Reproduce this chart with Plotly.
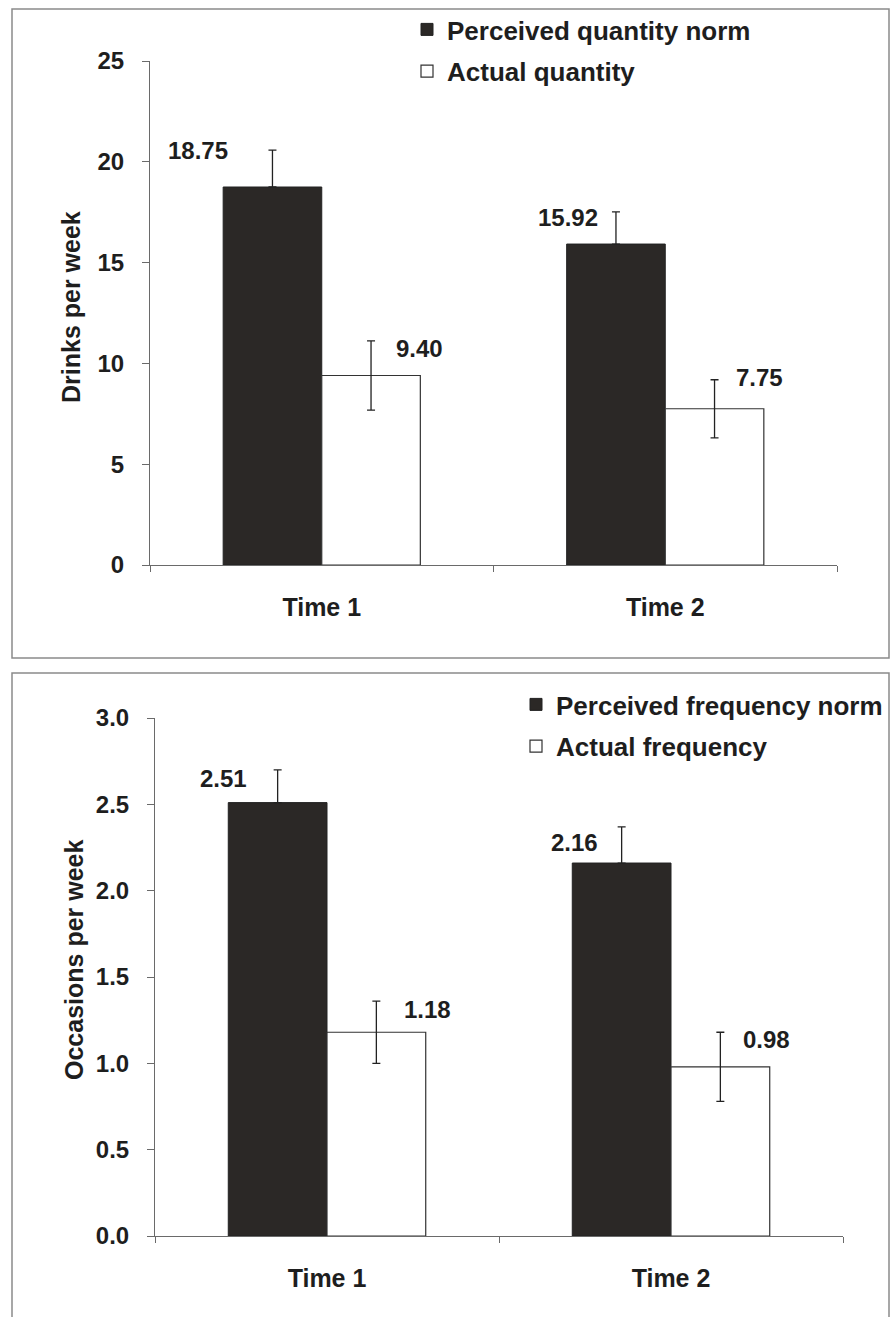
import plotly.graph_objects as go

# ---------------- data ----------------
categories = ["Time 1", "Time 2"]

quantity_norm = [18.75, 15.92]
quantity_norm_err = [1.83, 1.60]
quantity_actual = [9.40, 7.75]
quantity_actual_err = [1.72, 1.44]

frequency_norm = [2.51, 2.16]
frequency_norm_err = [0.19, 0.21]
frequency_actual = [1.18, 0.98]
frequency_actual_err = [0.18, 0.20]

top_ticks = [0, 5, 10, 15, 20, 25]
bottom_ticks = [0.0, 0.5, 1.0, 1.5, 2.0, 2.5, 3.0]

# ---------------- style ----------------
W, H = 892, 1317
FONT = "Liberation Sans, Arial, sans-serif"
TXT = "#1e1e1e"
DARK = "#2b2826"
AXC = "#6a6a6a"


def px_x(p):
    return p / W


def px_y(p):
    return 1 - p / H


fig = go.Figure()

err_style = dict(type="data", visible=True, color="#222222", thickness=1.3, width=4)

# top chart
fig.add_trace(go.Bar(
    x=categories, y=quantity_norm, name="Perceived quantity norm",
    marker=dict(color=DARK, line=dict(color="#222", width=1)),
    error_y=dict(array=quantity_norm_err, symmetric=False,
                 arrayminus=[0 for _ in quantity_norm_err], **err_style),
    xaxis="x", yaxis="y", legend="legend", legendgroup="a",
))
fig.add_trace(go.Bar(
    x=categories, y=quantity_actual, name="Actual quantity",
    marker=dict(color="white", line=dict(color="#333", width=1.2)),
    error_y=dict(array=quantity_actual_err, **err_style),
    xaxis="x", yaxis="y", legend="legend", legendgroup="b",
))
# bottom chart
fig.add_trace(go.Bar(
    x=categories, y=frequency_norm, name="Perceived frequency norm",
    marker=dict(color=DARK, line=dict(color="#222", width=1)),
    error_y=dict(array=frequency_norm_err, symmetric=False,
                 arrayminus=[0 for _ in frequency_norm_err], **err_style),
    xaxis="x2", yaxis="y2", legend="legend2", legendgroup="c",
))
fig.add_trace(go.Bar(
    x=categories, y=frequency_actual, name="Actual frequency",
    marker=dict(color="white", line=dict(color="#333", width=1.2)),
    error_y=dict(array=frequency_actual_err, **err_style),
    xaxis="x2", yaxis="y2", legend="legend2", legendgroup="d",
))

xcommon = dict(
    type="category", range=[-0.5, 1.5], showline=True, linecolor=AXC, linewidth=1,
    ticks="outside", tickson="boundaries", ticklen=6, tickcolor=AXC,
    showgrid=False, zeroline=False, ticklabelstandoff=20, automargin=False,
    tickfont=dict(family=FONT, size=25, color=TXT, weight="bold"),
)
ycommon = dict(
    showline=True, linecolor=AXC, linewidth=1, ticks="outside", ticklen=7,
    tickcolor=AXC, showgrid=False, zeroline=False, ticklabelstandoff=13, automargin=False,
    tickfont=dict(family=FONT, size=24, color=TXT, weight="bold"),
)

fig.update_layout(
    width=W, height=H,
    margin=dict(l=0, r=0, t=0, b=0, autoexpand=False),
    paper_bgcolor="white", plot_bgcolor="rgba(0,0,0,0)",
    barmode="group", bargap=0.426, bargroupgap=0,
    xaxis=dict(domain=[px_x(150), px_x(837)], anchor="y", **xcommon),
    yaxis=dict(domain=[px_y(565), px_y(61)], anchor="x", range=[0, 25],
               tickvals=top_ticks, ticktext=[str(t) for t in top_ticks], **ycommon),
    xaxis2=dict(domain=[px_x(155), px_x(843)], anchor="y2", **xcommon),
    yaxis2=dict(domain=[px_y(1236), px_y(718)], anchor="x2", range=[0, 3],
                tickvals=bottom_ticks, ticktext=[f"{t:.1f}" for t in bottom_ticks], **ycommon),
    legend=dict(x=px_x(447 - 40), y=px_y(6), xanchor="left", yanchor="top",
                bgcolor="rgba(0,0,0,0)", borderwidth=0, tracegroupgap=5,
                font=dict(family=FONT, size=26, color=TXT, weight="bold")),
    legend2=dict(x=px_x(556 - 40), y=px_y(681), xanchor="left", yanchor="top",
                 bgcolor="rgba(0,0,0,0)", borderwidth=0, tracegroupgap=5,
                 font=dict(family=FONT, size=26, color=TXT, weight="bold")),
    showlegend=True,
)

# value labels
label_font = dict(family=FONT, size=24, color=TXT, weight="bold")
top_shift = [(-124, 37), (98, 27), (-97, 27), (94, 31)]  # (xshift, yshift): norm T1, actual T1, norm T2, actual T2
bot_shift = [(-104, 24), (100, 23), (-97, 21), (95, 27)]

for i, cat in enumerate(categories):
    for vals, xr, yr, shifts in [
        (quantity_norm, "x", "y", top_shift[2 * i]),
        (quantity_actual, "x", "y", top_shift[2 * i + 1]),
        (frequency_norm, "x2", "y2", bot_shift[2 * i]),
        (frequency_actual, "x2", "y2", bot_shift[2 * i + 1]),
    ]:
        fig.add_annotation(x=cat, y=vals[i], xref=xr, yref=yr, text=f"{vals[i]:.2f}",
                           showarrow=False, xshift=shifts[0], yshift=shifts[1],
                           xanchor="center", yanchor="middle", font=label_font)

# axis titles
title_font = dict(family=FONT, size=25, color=TXT, weight="bold")
fig.add_annotation(x=px_x(71), y=px_y(307), xref="paper", yref="paper", text="Drinks per week",
                   textangle=-90, showarrow=False, xanchor="center", yanchor="middle",
                   font=title_font)
fig.add_annotation(x=px_x(74), y=px_y(960), xref="paper", yref="paper", text="Occasions per week",
                   textangle=-90, showarrow=False, xanchor="center", yanchor="middle",
                   font=title_font)

# panel frames
frame = dict(color="#8a8a8a", width=1.5)
fig.add_shape(type="rect", xref="paper", yref="paper", x0=px_x(12), x1=px_x(889),
              y0=px_y(658), y1=px_y(9), line=frame, fillcolor="rgba(0,0,0,0)", layer="below")
fig.add_shape(type="rect", xref="paper", yref="paper", x0=px_x(12), x1=px_x(889),
              y0=px_y(1330), y1=px_y(673), line=frame, fillcolor="rgba(0,0,0,0)", layer="below")

fig.write_html("out.html", config={"displayModeBar": False},
               post_script="document.body.style.margin='0';")
